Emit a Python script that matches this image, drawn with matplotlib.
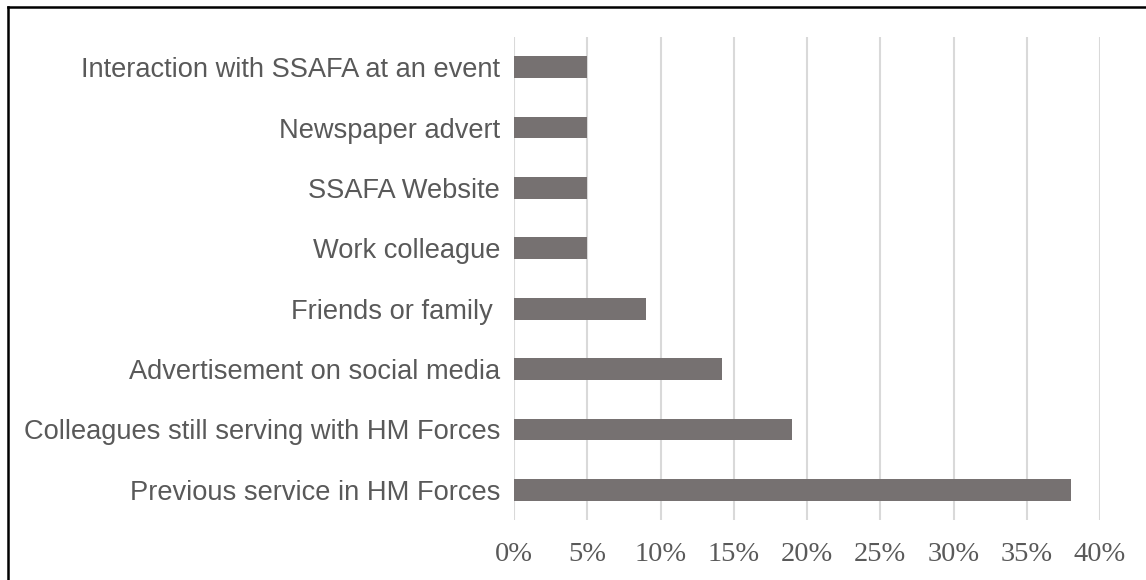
import matplotlib
matplotlib.use("Agg")
import matplotlib.pyplot as plt
from matplotlib.lines import Line2D
from matplotlib.ticker import FuncFormatter

categories = [
    "Previous service in HM Forces",
    "Colleagues still serving with HM Forces",
    "Advertisement on social media",
    "Friends or family ",
    "Work colleague",
    "SSAFA Website",
    "Newspaper advert",
    "Interaction with SSAFA at an event",
]
values = [0.38, 0.19, 0.142, 0.09, 0.05, 0.05, 0.05, 0.05]
xticks = [0, 0.05, 0.10, 0.15, 0.20, 0.25, 0.30, 0.35, 0.40]

fig = plt.figure(figsize=(11.46, 5.8), dpi=100)
ax = fig.add_axes([514/1146, 60/580, (1100-514)/1146, (543-60)/580])

ypos = list(range(len(categories)))
ax.barh(ypos, values, height=0.36, color="#767171", zorder=3)
ax.set_xlim(0, 0.40)
ax.set_ylim(-0.5, len(categories) - 0.5)
ax.set_xticks(xticks)
ax.xaxis.set_major_formatter(FuncFormatter(lambda v, p: f"{round(v*100)}%"))
ax.set_yticks(ypos)
ax.set_yticklabels(categories, fontfamily="Liberation Sans", fontsize=19.6, color="#595959")
for lab in ax.get_xticklabels():
    lab.set_fontfamily("Liberation Serif")
    lab.set_fontsize(20.5)
    lab.set_color("#595959")
ax.tick_params(axis="both", length=0)
ax.tick_params(axis="x", pad=16)
ax.tick_params(axis="y", pad=10)
ax.grid(axis="x", color="#d9d9d9", linewidth=1.5, zorder=0)
for s in ax.spines.values():
    s.set_visible(False)

# Frame: only left and top edges visible (cropped image)
fig.lines.append(Line2D([7.5/1146, 7.5/1146], [0, 573/580], transform=fig.transFigure,
                        color="black", linewidth=1.8))
fig.lines.append(Line2D([7.5/1146, 1], [573/580, 573/580], transform=fig.transFigure,
                        color="black", linewidth=1.8))
fig.savefig("out.png", dpi=100)
